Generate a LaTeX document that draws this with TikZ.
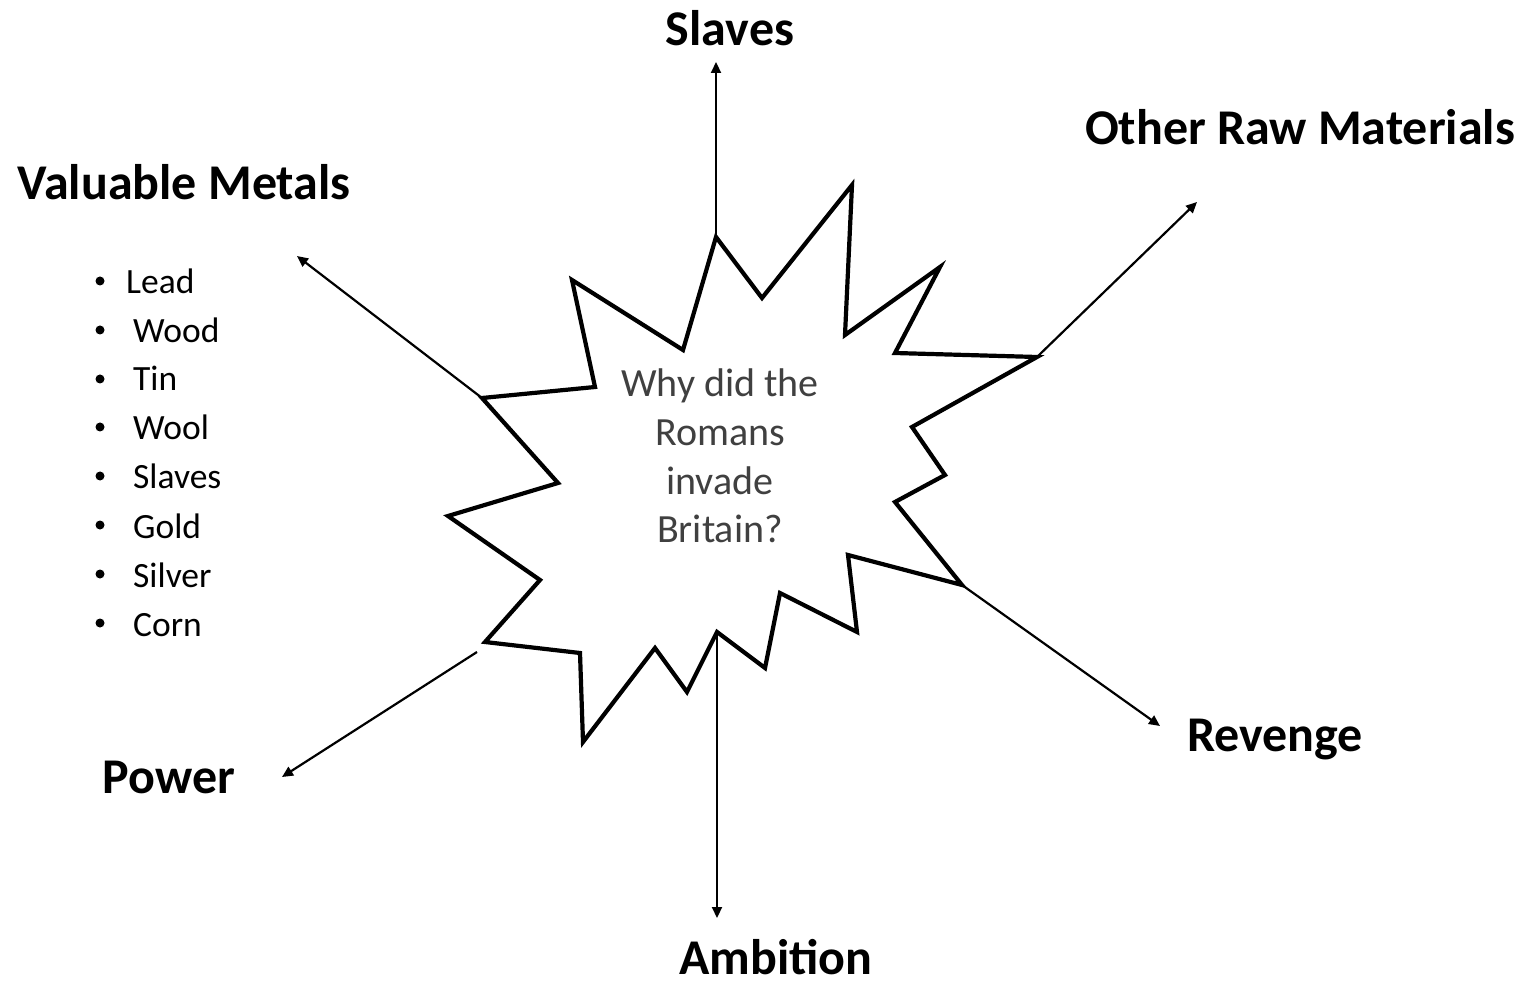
\documentclass[tikz,border=0pt]{standalone}
\usepackage{fontspec}
\setmainfont{Carlito}
\usetikzlibrary{arrows.meta, positioning}
\tikzset{
    heading/.style={font=\fontsize{50}{60}\selectfont\bfseries, inner sep=0pt, anchor=base},
    listitem/.style={font=\fontsize{35.5}{43}\selectfont, inner sep=0pt, anchor=base west},
    bulletdot/.style={circle, fill=black, inner sep=0pt, minimum size=9pt},
    question/.style={font=\fontsize{40}{48.7}\selectfont, text=black!75, align=center, inner sep=0pt},
    burst/.style={draw=black, line width=4.2pt, line join=miter, fill=white},
    arrow/.style={-{Triangle[length=11pt, width=10pt]}, line width=2.2pt},
}

\begin{document}
\begin{tikzpicture}[x=1pt, y=-1pt]
        \useasboundingbox (0,0) rectangle (1524,981);

        % Burst
        \draw[burst] (716,237) coordinate (spike_top) -- (762,298) -- (852,185) -- (845,335)
            -- (940,267) -- (895,353) -- (1037,357) coordinate (spike_ne) -- (912,427)
            -- (945,475) -- (895,502) -- (962,585) coordinate (spike_se) -- (848,555)
            -- (857,632) -- (780,593) -- (765,668) -- (717,632) coordinate (dip_bottom)
            -- (687,692) -- (655,648) -- (583,742) -- (580,653) -- (485,642)
            -- (540,580) -- (448,516) -- (558,483) -- (482,398) coordinate (spike_nw)
            -- (595,387) -- (572,280) -- (683,350) -- cycle;
        \coordinate (power_start) at (477,652);

        % Nodes
        \node[question] (why) at (720,456) {Why did the\\Romans\\invade\\Britain?};

        \node[heading] (slaves) at (730,46) {Slaves};
        \node[heading] (raw) at (1300,145) {Other Raw Materials};
        \node[heading] (metals) at (184,200) {Valuable Metals};
        \node[heading] (power) at (169,793) {Power};
        \node[heading] (ambition) at (776,974) {Ambition};
        \node[heading] (revenge) at (1275,751) {Revenge};

        \coordinate (slaves_end) at (716,62);
        \coordinate (raw_end) at (1197,202);
        \coordinate (metals_end) at (297,256);
        \coordinate (power_end) at (282,777);
        \coordinate (ambition_end) at (717,918);
        \coordinate (revenge_end) at (1160,726);

        % List of metals
        \node[bulletdot] (b1) at (100,281) {};
        \node[bulletdot] (b2) at (100,330) {};
        \node[bulletdot] (b3) at (100,379) {};
        \node[bulletdot] (b4) at (100,427) {};
        \node[bulletdot] (b5) at (100,476) {};
        \node[bulletdot] (b6) at (100,525) {};
        \node[bulletdot] (b7) at (100,574) {};
        \node[bulletdot] (b8) at (100,623) {};
        \node[listitem] (lead) at (126,294) {Lead};
        \node[listitem] (wood) at (133,343) {Wood};
        \node[listitem] (tin) at (133,391) {Tin};
        \node[listitem] (wool) at (133,440) {Wool};
        \node[listitem] (slaves2) at (133,489) {Slaves};
        \node[listitem] (gold) at (133,538) {Gold};
        \node[listitem] (silver) at (133,587) {Silver};
        \node[listitem] (corn) at (133,636) {Corn};

        % Connections
        \draw[arrow] (spike_top) -- (slaves_end);
        \draw[arrow] (spike_ne) -- (raw_end);
        \draw[arrow] (spike_nw) -- (metals_end);
        \draw[arrow] (power_start) -- (power_end);
        \draw[arrow] (dip_bottom) -- (ambition_end);
        \draw[arrow] (spike_se) -- (revenge_end);
    \end{tikzpicture}
\end{document}
